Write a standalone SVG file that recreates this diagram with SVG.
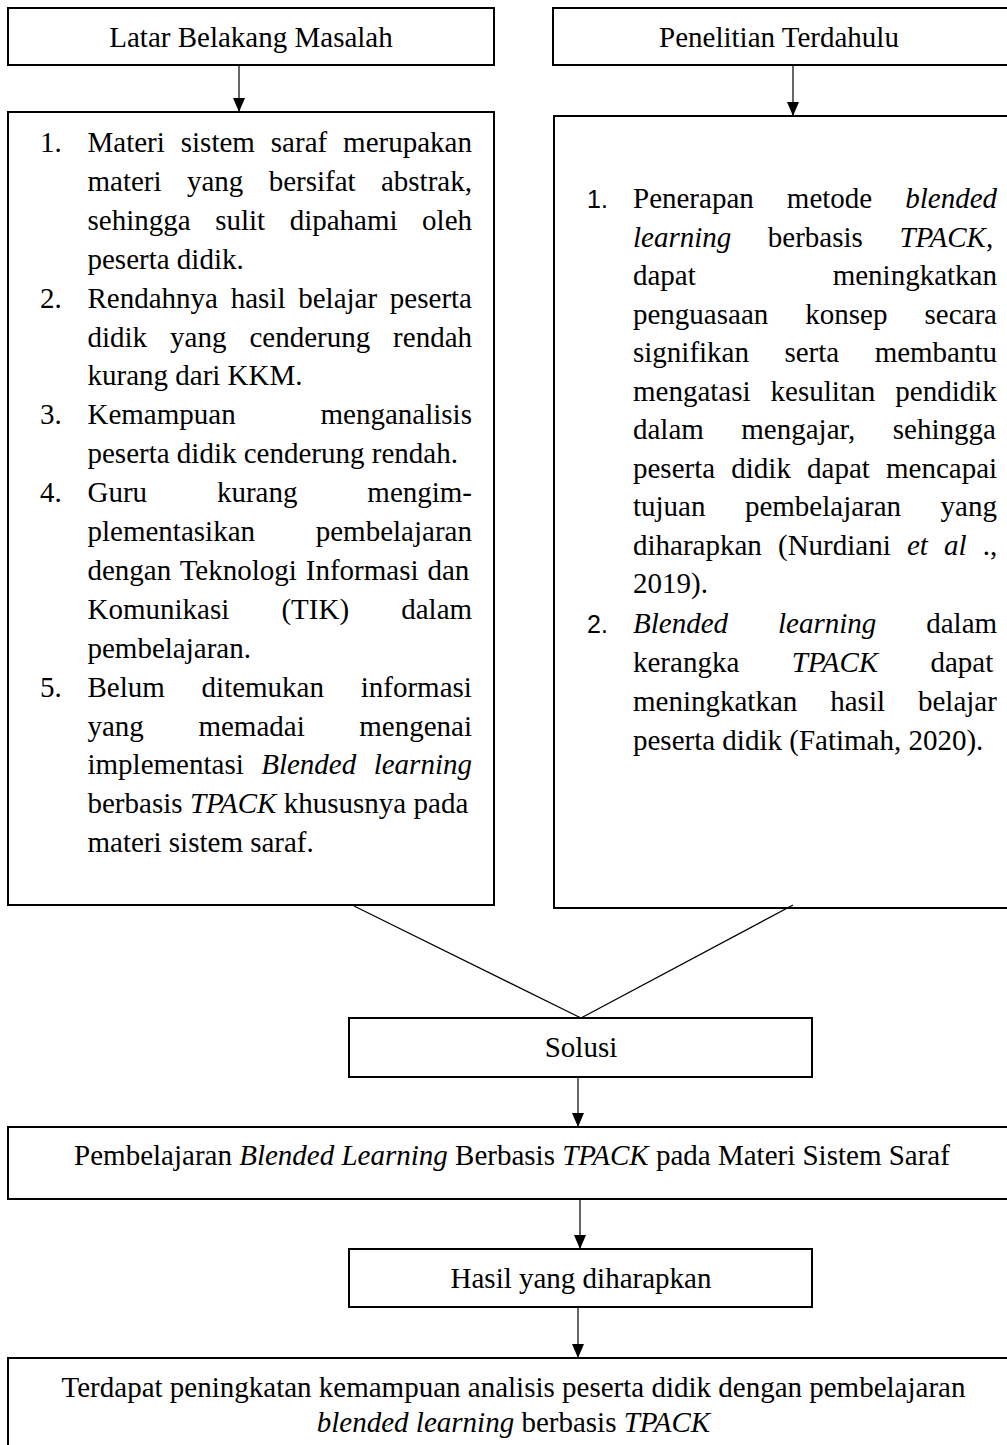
<svg xmlns="http://www.w3.org/2000/svg" width="1007" height="1445" viewBox="0 0 1007 1445">
<defs>
<style>
.box{fill:#fff;stroke:#000;stroke-width:2}
.t{font-family:"Liberation Serif","Times New Roman",serif;font-size:29px;fill:#000}
.c{text-anchor:middle}
.i{font-style:italic}
.sn{font-family:"Liberation Sans",Arial,sans-serif;font-size:25px;fill:#000}
.conn{stroke:#000;stroke-width:1.2;fill:none}
</style>
<marker id="ah" markerUnits="userSpaceOnUse" markerWidth="14" markerHeight="12" refX="14" refY="6" orient="auto">
<path d="M0,0 L14,6 L0,12 z" fill="#000"/>
</marker>
</defs>
<rect width="1007" height="1445" fill="#fff"/>

<g id="latar">
<rect class="box" x="8" y="8" width="486" height="57"/>
<text class="t c" x="251" y="47">Latar Belakang Masalah</text>
</g>

<g id="penelitian">
<rect class="box" x="553" y="8" width="470" height="57"/>
<text class="t c" x="779" y="47">Penelitian Terdahulu</text>
</g>

<g id="masalah-list">
<rect class="box" x="8" y="112" width="486" height="793"/>
<text class="t" x="40" y="152">1.</text>
<text class="t" x="87.5" y="152" style="word-spacing:8.7px">Materi sistem saraf merupakan</text>
<text class="t" x="87.5" y="190.9" style="word-spacing:18.1px">materi yang bersifat abstrak,</text>
<text class="t" x="87.5" y="229.8" style="word-spacing:17.3px">sehingga sulit dipahami oleh</text>
<text class="t" x="87.5" y="268.7">peserta didik.</text>
<text class="t" x="40" y="307.6">2.</text>
<text class="t" x="87.5" y="307.6" style="word-spacing:5.5px">Rendahnya hasil belajar peserta</text>
<text class="t" x="87.5" y="346.5" style="word-spacing:15.7px">didik yang cenderung rendah</text>
<text class="t" x="87.5" y="385.4">kurang dari KKM.</text>
<text class="t" x="40" y="424.3">3.</text>
<text class="t" x="87.5" y="424.3" style="word-spacing:77.6px">Kemampuan menganalisis</text>
<text class="t" x="87.5" y="463.2">peserta didik cenderung rendah.</text>
<text class="t" x="40" y="502.1">4.</text>
<text class="t" x="87.5" y="502.1" style="word-spacing:62.6px">Guru kurang mengim-</text>
<text class="t" x="87.5" y="541" style="word-spacing:53.5px">plementasikan pembelajaran</text>
<text class="t" x="87.5" y="579.9" style="word-spacing:1.7px">dengan Teknologi Informasi dan</text>
<text class="t" x="87.5" y="618.8" style="word-spacing:44.9px">Komunikasi (TIK) dalam</text>
<text class="t" x="87.5" y="657.7">pembelajaran.</text>
<text class="t" x="40" y="696.6">5.</text>
<text class="t" x="87.5" y="696.6" style="word-spacing:29.5px">Belum ditemukan informasi</text>
<text class="t" x="87.5" y="735.5" style="word-spacing:47.3px">yang memadai mengenai</text>
<text class="t" x="87.5" y="774.4" style="word-spacing:10.2px">implementasi <tspan class="i">Blended learning</tspan></text>
<text class="t" x="87.5" y="813.3" style="word-spacing:0.1px">berbasis <tspan class="i">TPACK</tspan> khususnya pada</text>
<text class="t" x="87.5" y="852.2">materi sistem saraf.</text>
</g>

<g id="penelitian-list">
<rect class="box" x="554" y="116" width="470" height="792"/>
<text class="sn" x="587" y="208">1.</text>
<text class="t" x="633" y="208" style="word-spacing:25.8px">Penerapan metode <tspan class="i">blended</tspan></text>
<text class="t" x="633" y="246.5" style="word-spacing:29.3px"><tspan class="i">learning</tspan> berbasis <tspan class="i">TPACK</tspan>,</text>
<text class="t" x="633" y="285" style="word-spacing:129.6px">dapat meningkatkan</text>
<text class="t" x="633" y="323.5" style="word-spacing:29.8px">penguasaan konsep secara</text>
<text class="t" x="633" y="362" style="word-spacing:28.2px">signifikan serta membantu</text>
<text class="t" x="633" y="400.5" style="word-spacing:12.8px">mengatasi kesulitan pendidik</text>
<text class="t" x="633" y="439" style="word-spacing:30.2px">dalam mengajar, sehingga</text>
<text class="t" x="633" y="477.5" style="word-spacing:8.9px">peserta didik dapat mencapai</text>
<text class="t" x="633" y="516" style="word-spacing:32.2px">tujuan pembelajaran yang</text>
<text class="t" x="633" y="554.5" style="word-spacing:8.9px">diharapkan (Nurdiani <tspan class="i">et al</tspan> .,</text>
<text class="t" x="633" y="593">2019).</text>
<text class="sn" x="587" y="633">2.</text>
<text class="t" x="633" y="633" style="word-spacing:42.7px"><tspan class="i">Blended learning</tspan> dalam</text>
<text class="t" x="633" y="672" style="word-spacing:45.1px">kerangka <tspan class="i">TPACK</tspan> dapat</text>
<text class="t" x="633" y="711" style="word-spacing:25.7px">meningkatkan hasil belajar</text>
<text class="t" x="633" y="749.5">peserta didik (Fatimah, 2020).</text>
</g>

<g id="solusi">
<rect class="box" x="349" y="1018" width="463" height="59"/>
<text class="t c" x="581" y="1057">Solusi</text>
</g>

<g id="pembelajaran">
<rect class="box" x="8" y="1127" width="1010" height="72"/>
<text class="t c" x="512" y="1165">Pembelajaran <tspan class="i">Blended Learning</tspan> Berbasis <tspan class="i">TPACK</tspan> pada Materi Sistem Saraf</text>
</g>

<g id="hasil">
<rect class="box" x="349" y="1249" width="463" height="58"/>
<text class="t c" x="581" y="1288">Hasil yang diharapkan</text>
</g>

<g id="kesimpulan">
<rect class="box" x="8" y="1358" width="1010" height="100"/>
<text class="t c" x="513.5" y="1397">Terdapat peningkatan kemampuan analisis peserta didik dengan pembelajaran</text>
<text class="t c" x="513.5" y="1432"><tspan class="i">blended learning</tspan> berbasis <tspan class="i">TPACK</tspan></text>
</g>

<g id="connectors">
<path class="conn" d="M239,65 L239,112" marker-end="url(#ah)"/>
<path class="conn" d="M793,65 L793,116" marker-end="url(#ah)"/>
<path class="conn" d="M354,906 L581,1018"/>
<path class="conn" d="M793,905 L581,1018"/>
<path class="conn" d="M578,1077 L578,1127" marker-end="url(#ah)"/>
<path class="conn" d="M580,1199 L580,1249" marker-end="url(#ah)"/>
<path class="conn" d="M578,1307 L578,1358" marker-end="url(#ah)"/>
</g>
</svg>
